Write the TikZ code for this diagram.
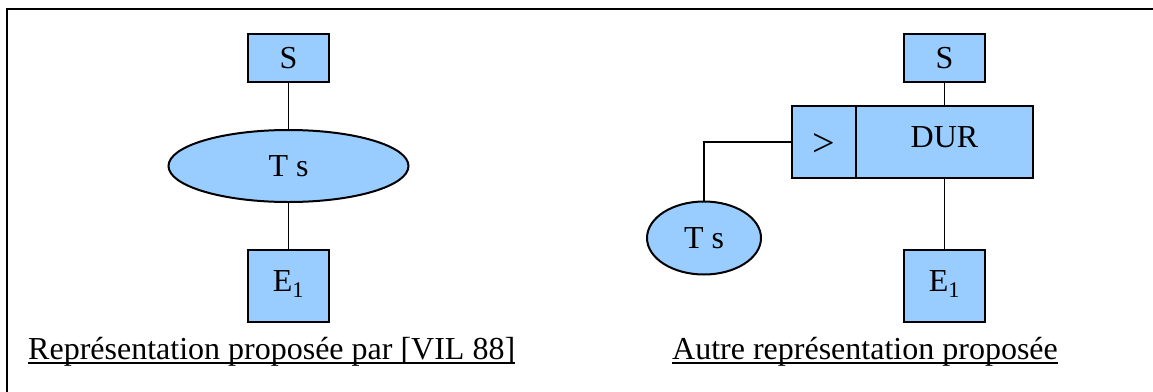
\documentclass[tikz,border=0pt]{standalone}
\usepackage{fontspec}
\setmainfont{Liberation Serif}
\usetikzlibrary{shapes.geometric}
\definecolor{boxblue}{RGB}{153,204,255}
\begin{document}
\begin{tikzpicture}[x=1pt,y=-1pt,
  every node/.style={font=\fontsize{32}{38}\selectfont, inner sep=0pt},
  bluebox/.style={draw, fill=boxblue, line width=2pt, rectangle},
  blueell/.style={draw, fill=boxblue, line width=2pt, ellipse},
  link/.style={line width=1.6pt},
  captext/.style={anchor=base west},
  uline/.style={line width=1.8pt}]
\useasboundingbox (0,0) rectangle (1153,391);
\clip (0,0) rectangle (1153,391);
\draw[line width=2.6pt] (7,9) rectangle (1175,415);

% left diagram
\node[bluebox, minimum width=81pt, minimum height=48pt] (sL) at (288.5,58) {S};
\node[blueell, minimum width=240pt, minimum height=72pt] (tsL) at (288.5,166) {T s};
\node[bluebox, minimum width=81pt, minimum height=72pt, text height=21pt, text depth=11pt] (eL) at (288.5,286) {E\textsubscript{1}};
\draw[link] (sL) -- (tsL);
\draw[link] (tsL) -- (eL);
\node[captext] (capL) at (28,359) {Représentation proposée par [VIL 88]};
\draw[uline] ([yshift=-4pt]capL.base west) -- ([yshift=-4pt]capL.base east);

% right diagram
\node[bluebox, minimum width=81pt, minimum height=48pt] (sR) at (944.5,58) {S};
\node[bluebox, minimum width=64pt, minimum height=72pt, text height=28pt, text depth=0pt,
      font=\fontsize{40}{46}\selectfont] (gt) at (824,142) {>};
\node[bluebox, minimum width=177pt, minimum height=72pt, text height=21pt, text depth=10pt] (dur) at (944.5,142) {DUR};
\node[blueell, minimum width=114pt, minimum height=73pt] (tsR) at (704,238) {T s};
\node[bluebox, minimum width=81pt, minimum height=72pt, text height=21pt, text depth=11pt] (eR) at (944.5,286) {E\textsubscript{1}};
\draw[link] (sR) -- (dur);
\draw[link] (dur) -- (eR);
\draw[link] (tsR.north) |- (gt.west);
\node[captext] (capR) at (672,359) {Autre représentation proposée};
\draw[uline] ([yshift=-4pt]capR.base west) -- ([yshift=-4pt]capR.base east);
\end{tikzpicture}
\end{document}
